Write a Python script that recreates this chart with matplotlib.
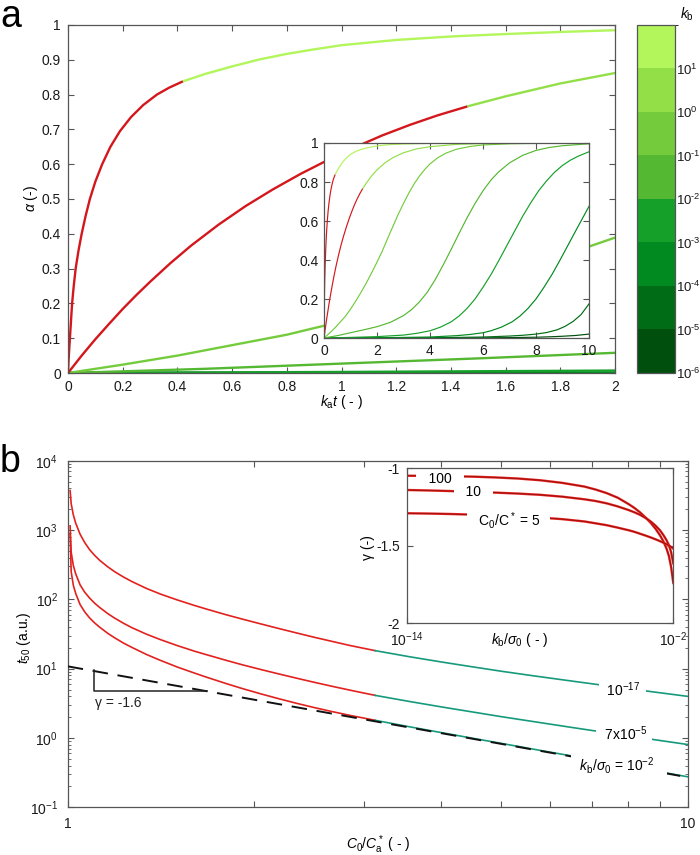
import numpy as np
import matplotlib
matplotlib.use("Agg")
import matplotlib.pyplot as plt
from matplotlib.colors import ListedColormap, BoundaryNorm
from matplotlib.cm import ScalarMappable
from matplotlib.ticker import LogLocator, NullFormatter, NullLocator

plt.rcParams['font.family'] = ['Liberation Sans', 'DejaVu Sans']
plt.rcParams['mathtext.fontset'] = 'custom'
plt.rcParams['mathtext.rm'] = 'Liberation Sans'
plt.rcParams['mathtext.it'] = 'Liberation Sans:italic'
plt.rcParams['mathtext.bf'] = 'Liberation Sans:bold'
plt.rcParams['axes.unicode_minus'] = False
plt.rcParams['font.size'] = 10

# ---- colour bar (k_b decades, dark -> light) ----
kb_edges = [-6, -5, -4, -3, -2, -1, 0, 1, 2]
kb_colors = ['#004f0c', '#006c16', '#008a1f', '#15a02a', '#55b832', '#74cc3d', '#93df48', '#b2f65c']

# ---- panel a: alpha vs k_a t, one curve per k_b (fast -> slow) ----
kat_1 = [0, 0.003, 0.007, 0.011, 0.015, 0.021, 0.028, 0.038, 0.05, 0.064, 0.08, 0.1, 0.125, 0.155,
         0.19, 0.23, 0.275, 0.325, 0.37, 0.42, 0.5, 0.6, 0.7, 0.8, 0.9, 1.0, 1.2, 1.4, 1.6, 1.8,
         2.0, 2.5, 3.0, 4.0, 6.0, 10.0]
alpha_1 = [0, 0.05, 0.1, 0.15, 0.2, 0.25, 0.3, 0.35, 0.4, 0.45, 0.5, 0.55, 0.6, 0.65,
           0.695, 0.735, 0.77, 0.8, 0.82, 0.838, 0.859, 0.881, 0.901, 0.917, 0.930, 0.942, 0.957,
           0.967, 0.974, 0.980, 0.985, 0.992, 0.995, 0.998, 0.9995, 1.0]
kat_2 = [0, 0.05, 0.1, 0.15, 0.2, 0.25, 0.3, 0.375, 0.45, 0.55, 0.65, 0.75, 0.85, 0.95, 1.05,
         1.15, 1.25, 1.35, 1.46, 1.6, 1.8, 2.0, 2.3, 2.6, 3.0, 3.5, 4.0, 5.0, 6.0, 8.0, 10.0]
alpha_2 = [0, 0.05, 0.097, 0.141, 0.184, 0.224, 0.262, 0.316, 0.366, 0.426, 0.48, 0.528, 0.572,
           0.612, 0.649, 0.683, 0.713, 0.74, 0.766, 0.795, 0.832, 0.862, 0.898, 0.925, 0.95, 0.97,
           0.981, 0.993, 0.997, 0.999, 1.0]
kat_3 = [0, 0.2, 0.4, 0.6, 0.8, 1.0, 1.2, 1.4, 1.6, 1.8, 2.0, 2.2, 2.4, 2.6, 2.8, 3.0, 3.2, 3.4,
         3.6, 3.8, 4.0, 4.3, 4.6, 5.0, 5.5, 6.0, 7.0, 8.0, 10.0]
alpha_3 = [0, 0.024, 0.05, 0.08, 0.11, 0.148, 0.19, 0.235, 0.283, 0.335, 0.389, 0.446, 0.51,
           0.572, 0.634, 0.69, 0.743, 0.79, 0.83, 0.864, 0.893, 0.925, 0.948, 0.968, 0.982, 0.99,
           0.996, 0.998, 1.0]
kat_4 = [0, 0.5, 1.0, 1.5, 2.0, 2.5, 3.0, 3.3, 3.6, 3.9, 4.2, 4.5, 4.8, 5.1, 5.4, 5.7, 6.0, 6.3,
         6.6, 7.0, 7.5, 8.0, 8.5, 9.0, 10.0]
alpha_4 = [0, 0.012, 0.027, 0.042, 0.058, 0.08, 0.115, 0.145, 0.185, 0.235, 0.30, 0.375, 0.455,
           0.537, 0.617, 0.69, 0.755, 0.81, 0.853, 0.898, 0.937, 0.962, 0.977, 0.986, 0.996]
kat_5 = [0, 1.0, 2.0, 3.0, 3.5, 4.0, 4.4, 4.8, 5.1, 5.4, 5.7, 6.0, 6.3, 6.6, 6.9, 7.2, 7.5, 7.8,
         8.1, 8.4, 8.7, 9.0, 9.3, 9.6, 10.0]
alpha_5 = [0, 0.003, 0.007, 0.015, 0.024, 0.037, 0.056, 0.083, 0.113, 0.152, 0.2, 0.26, 0.325,
           0.398, 0.474, 0.55, 0.625, 0.693, 0.755, 0.806, 0.85, 0.885, 0.912, 0.933, 0.955]
kat_6 = [0, 2.0, 4.0, 5.0, 5.5, 6.0, 6.3, 6.7, 7.1, 7.4, 7.7, 8.0, 8.3, 8.6, 8.9, 9.2, 9.5, 9.8,
         10.0]
alpha_6 = [0, 0.001, 0.005, 0.012, 0.018, 0.027, 0.037, 0.056, 0.083, 0.113, 0.152, 0.2, 0.26,
           0.325, 0.398, 0.474, 0.55, 0.625, 0.675]
kat_7 = [0, 2.0, 4.0, 6.0, 7.0, 7.5, 8.0, 8.4, 8.8, 9.1, 9.4, 9.7, 10.0]
alpha_7 = [0, 0.0, 0.001, 0.005, 0.01, 0.014, 0.02, 0.028, 0.042, 0.06, 0.085, 0.12, 0.175]
kat_8 = [0, 4.0, 6.0, 7.0, 8.0, 8.5, 9.0, 9.5, 10.0]
alpha_8 = [0, 0.0, 0.001, 0.002, 0.004, 0.006, 0.009, 0.013, 0.02]
red_until = [0.42, 1.46, None, None, None, None, None, None]

# ---- panel b: t50 vs C0/C*a for three k_b/sigma0 ----
c_ratio = [1.009, 1.013, 1.021, 1.03, 1.047, 1.065, 1.084, 1.105, 1.127, 1.16, 1.19, 1.23, 1.27,
           1.34, 1.41, 1.5, 1.6, 1.67, 1.8, 1.91, 2.05, 2.18, 2.34, 2.5, 2.67, 2.85, 3.13, 3.55,
           4.0, 4.47, 5.0, 5.62, 6.46, 7.94, 10.0]
t50_1e17 = [3715, 2399, 1660, 1259, 871, 661, 525, 431, 363, 295, 251, 210, 180, 143.5, 119.4,
            98.4, 81.7, 72.8, 60.0, 52.0, 44.1, 38.3, 32.7, 28.3, 24.7, 21.6, 18.2, 14.9, 12.5,
            10.7, 9.18, 7.91, 6.67, 5.20, 3.98]
t50_7e5 = [1148, 479, 309, 234, 162, 127, 105, 88.1, 75.9, 62.4, 53.7, 45.2, 38.9, 31.4, 26.3,
           21.6, 17.9, 16.0, 13.2, 11.4, 9.70, 8.47, 7.28, 6.34, 5.56, 4.90, 4.12, 3.37, 2.81,
           2.39, 2.03, 1.73, 1.43, 1.084, 0.804]
t50_1e2 = [891, 251, 160, 122, 84.1, 66.1, 54.3, 45.7, 39.4, 32.4, 27.9, 23.4, 20.2, 16.0, 13.2,
           10.6, 8.65, 7.59, 6.10, 5.18, 4.32, 3.72, 3.16, 2.74, 2.40, 2.12, 1.80, 1.455, 1.197,
           1.0, 0.836, 0.692, 0.555, 0.398, 0.275]
c_switch = 3.13
slope_c = [1.0, 10.0]
slope_t = [10.8, 0.271]
tri_c = [1.104, 1.104, 1.675]
tri_t = [9.45, 4.76, 4.76]

# ---- inset b: gamma vs k_b/sigma0 ----
kb_sigma = [1e-14, 1e-13, 1e-12, 1e-11, 1e-10, 1e-9, 1e-8, 1e-7, 1e-6, 3.16e-6, 1e-5, 3.16e-5,
            1e-4, 1.78e-4, 3.16e-4, 5.62e-4, 1e-3, 1.58e-3, 2.51e-3, 3.55e-3, 5.01e-3, 6.31e-3,
            7.94e-3, 1e-2]
gamma_100 = [-1.048, -1.049, -1.051, -1.054, -1.059, -1.066, -1.077, -1.094, -1.118, -1.137,
             -1.16, -1.19, -1.232, -1.256, -1.284, -1.317, -1.355, -1.39, -1.432, -1.47, -1.52,
             -1.565, -1.635, -1.74]
gamma_10 = [-1.140, -1.143, -1.147, -1.152, -1.157, -1.163, -1.171, -1.183, -1.2, -1.211, -1.226,
            -1.246, -1.27, -1.284, -1.3, -1.32, -1.345, -1.37, -1.40, -1.43, -1.465, -1.495,
            -1.54, -1.614]
gamma_5 = [-1.29, -1.292, -1.295, -1.299, -1.304, -1.31, -1.318, -1.328, -1.343, -1.355, -1.367,
           -1.383, -1.40, -1.41, -1.422, -1.434, -1.447, -1.458, -1.47, -1.48, -1.49, -1.498,
           -1.507, -1.518]

RED_A = '#d3171c'
RED_B = '#e2221e'
TEAL = '#179a7c'
SPINE = '#555555'

W, H = 700, 855


def px_rect(left, top, right, bottom):
    return [left / W, 1 - bottom / H, (right - left) / W, (bottom - top) / H]


def style(ax, pad=4):
    for s in ax.spines.values():
        s.set_color(SPINE)
        s.set_linewidth(0.9)
    ax.tick_params(which='both', direction='in', top=True, right=True, color=SPINE,
                   labelcolor='#1a1a1a', labelsize=10, pad=pad)
    ax.tick_params(which='major', length=4.5, width=0.8)


fig = plt.figure(figsize=(7, 8.55), dpi=100)

kat_all = [kat_1, kat_2, kat_3, kat_4, kat_5, kat_6, kat_7, kat_8]
alpha_all = [alpha_1, alpha_2, alpha_3, alpha_4, alpha_5, alpha_6, alpha_7, alpha_8]
curve_colors = kb_colors[::-1]


def draw_alpha(ax, lw):
    for i in range(7, -1, -1):
        x = np.array(kat_all[i])
        y = np.array(alpha_all[i])
        r = red_until[i]
        if r is None:
            ax.plot(x, y, color=curve_colors[i], lw=lw)
        else:
            ax.plot(x[x >= r], y[x >= r], color=curve_colors[i], lw=lw, solid_capstyle='butt')
            ax.plot(x[x <= r], y[x <= r], color=RED_A, lw=lw, solid_capstyle='butt')


# panel a main
ax_a = fig.add_axes(px_rect(68, 25, 615, 373))
draw_alpha(ax_a, 1.7)
ax_a.set_xlim(0, 2)
ax_a.set_ylim(0, 1)
xt = np.round(np.arange(0, 2.01, 0.2), 1)
yt = np.round(np.arange(0, 1.01, 0.1), 1)
ax_a.set_xticks(xt, ['%g' % v for v in xt])
ax_a.set_yticks(yt, ['%g' % v for v in yt])
style(ax_a, pad=5)
ax_a.set_xlabel(r'$k_{\mathrm{a}}t$ ( - )', fontsize=10)
ax_a.xaxis.set_label_coords(0.5, -0.058)
ax_a.set_ylabel(r'$\alpha$ (-)', fontsize=10)
ax_a.yaxis.set_label_coords(-0.052, 0.5)

# panel a inset
ax_ai = fig.add_axes(px_rect(324, 143, 589, 338))
draw_alpha(ax_ai, 0.85)
ax_ai.set_xlim(0, 10)
ax_ai.set_ylim(0, 1)
ax_ai.set_xticks([0, 2, 4, 6, 8, 10], ['0', '2', '4', '6', '8', '10'])
ax_ai.set_yticks([0, 0.2, 0.4, 0.6, 0.8, 1], ['0', '0.2', '0.4', '0.6', '0.8', '1'])
style(ax_ai, pad=4)

# colour bar
cax = fig.add_axes(px_rect(637, 25, 675, 373))
cmap = ListedColormap(kb_colors)
norm = BoundaryNorm(kb_edges, cmap.N)
cb = fig.colorbar(ScalarMappable(norm=norm, cmap=cmap), cax=cax, ticks=kb_edges[:-1])
cb.set_ticklabels([('$10^{\\text{-}%d}$' % -e) if e < 0 else ('$10^{%d}$' % e)
                   for e in kb_edges[:-1]])
cb.ax.tick_params(length=0, pad=1, labelsize=9.5, labelcolor='#1a1a1a')
cb.outline.set_edgecolor(SPINE)
cb.outline.set_linewidth(0.9)
fig.text(687 / W, 1 - 14 / H, r'$k_{\mathrm{b}}$', ha='center', va='center', fontsize=10)

# panel b main
ax_b = fig.add_axes(px_rect(67.7, 460.7, 688, 807.3))
ax_b.set_xscale('log')
ax_b.set_yscale('log')
c = np.array(c_ratio)
for t in (t50_1e17, t50_7e5, t50_1e2):
    t = np.array(t)
    ax_b.plot(c[c <= c_switch], t[c <= c_switch], color=RED_B, lw=1.2)
    ax_b.plot(c[c >= c_switch], t[c >= c_switch], color=TEAL, lw=1.2)
ax_b.plot(slope_c, slope_t, color='#111111', lw=1.4, dashes=(8, 5), zorder=3)
ax_b.plot(tri_c, tri_t, color='#222222', lw=1.1, zorder=3)
ax_b.text(1.108, 3.2, 'γ = -1.6', ha='left', va='center', fontsize=10, color='#222222')
bb = dict(facecolor='white', edgecolor='none', pad=0.5)
ax_b.text(7.84, 5.0, '  $10^{-17}$  ', ha='center', va='center', fontsize=10, bbox=bb, zorder=5)
ax_b.text(7.89, 1.17, '  7x$10^{-5}$  ', ha='center', va='center', fontsize=10, bbox=bb, zorder=5)
ax_b.text(7.75, 0.40, r'  $k_{\mathrm{b}}/\sigma_0$ = $10^{-2}$    ', ha='center', va='center',
          fontsize=10, bbox=bb, zorder=5)
ax_b.set_xlim(1, 10)
ax_b.set_ylim(0.1, 1e4)
ax_b.set_xticks([1, 10], ['1', '10'])
ax_b.set_xticks([2, 3, 4, 5, 6, 7, 8, 9], minor=True)
ax_b.xaxis.set_minor_formatter(NullFormatter())
ax_b.yaxis.set_major_locator(LogLocator(base=10, numticks=10))
ax_b.yaxis.set_minor_locator(LogLocator(base=10, subs=np.arange(2, 10), numticks=10))
ax_b.yaxis.set_minor_formatter(NullFormatter())
style(ax_b, pad=7)
ax_b.tick_params(axis='x', which='minor', length=4.5, width=0.8)
ax_b.tick_params(axis='y', which='minor', length=2.2, width=0.6)
ax_b.set_xlabel(r'$C_0/C^*_{\mathrm{a}}$ ( - )', fontsize=10)
ax_b.xaxis.set_label_coords(0.5, -0.075)
ax_b.set_ylabel(r'$t_{50}$ (a.u.)', fontsize=10)
ax_b.yaxis.set_label_coords(-0.056, 0.49)

# panel b inset
ax_g = fig.add_axes(px_rect(406.7, 468.3, 673.3, 623.3))
ax_g.set_xscale('log')
for g in (gamma_100, gamma_10, gamma_5):
    ax_g.plot(kb_sigma, g, color='#e4201c', lw=1.7)
    ax_g.plot(kb_sigma, g, color='#400000', lw=0.4, alpha=0.7)
bi = dict(facecolor='white', edgecolor='none', pad=0.3)
ax_g.text(3.16e-13, -1.07, '   100   ', ha='center', va='center', fontsize=10, bbox=bi, zorder=5)
ax_g.text(1e-11, -1.152, '   10   ', ha='center', va='center', fontsize=10, bbox=bi, zorder=5)
ax_g.text(3.7e-10, -1.334, r'   C$_0$/C$^*$ = 5   ', ha='center', va='center', fontsize=10,
          bbox=bi, zorder=5)
ax_g.set_xlim(1e-14, 1e-2)
ax_g.set_ylim(-2, -1)
ax_g.set_xticks([1e-14, 1e-2])
ax_g.xaxis.set_minor_locator(NullLocator())
ax_g.set_yticks([-2, -1.5, -1], ['-2', '-1.5', '-1'])
style(ax_g, pad=5)
ax_g.set_xlabel(r'$k_{\mathrm{b}}/\sigma_0$ ( - )', fontsize=10)
ax_g.xaxis.set_label_coords(0.425, -0.05)
ax_g.set_ylabel('γ (-)', fontsize=10)
ax_g.yaxis.set_label_coords(-0.12, 0.49)

# panel letters
fig.text(0.0, 1 - 27 / H, 'a', fontsize=27, ha='left', va='baseline')
fig.text(0.0, 1 - 472 / H, 'b', fontsize=27, ha='left', va='baseline')

fig.savefig('out.png', dpi=100)
